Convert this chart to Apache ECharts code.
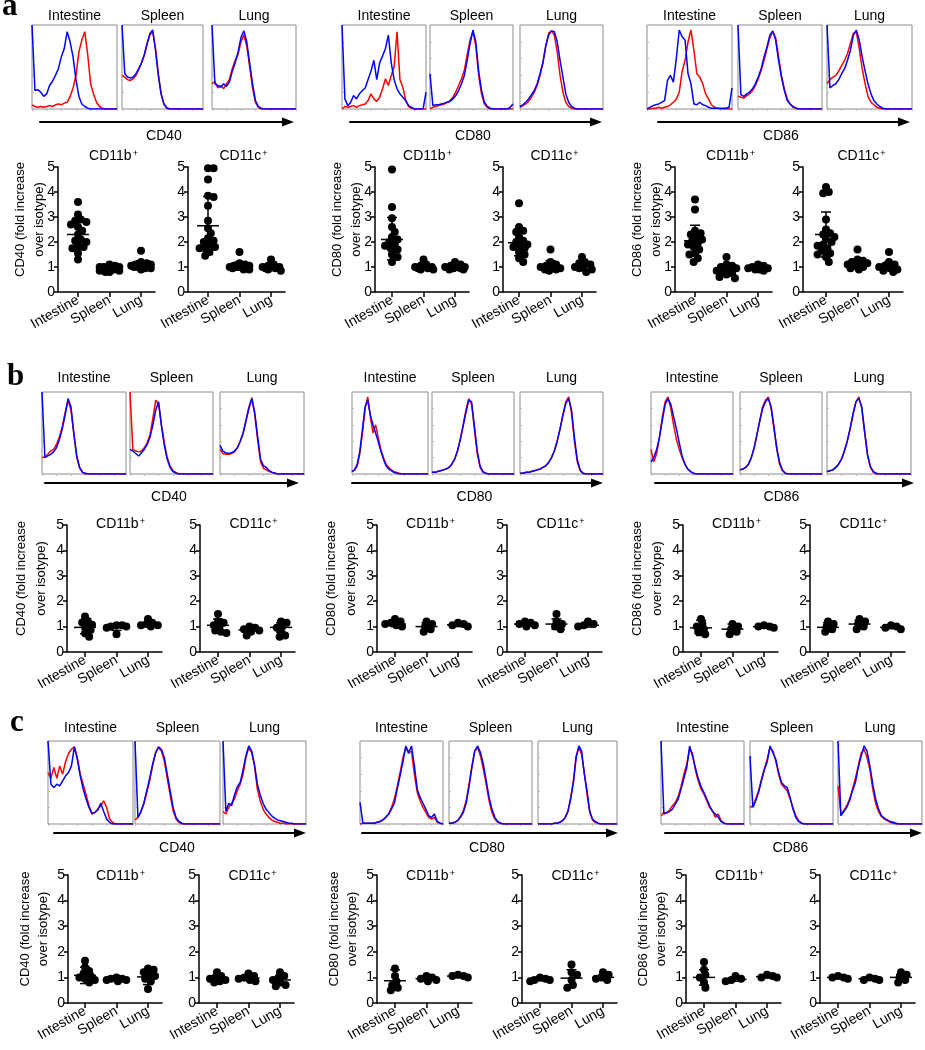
<!DOCTYPE html>
<html><head><meta charset="utf-8">
<script src="https://cdn.jsdelivr.net/npm/echarts@6/dist/echarts.min.js"></script>
<style>html,body{margin:0;padding:0;background:#fff}#c{width:925px;height:1050px}</style>
</head><body><div id="c"></div><script>
// ---------- labels ----------
const categories = ['Intestine', 'Spleen', 'Lung'];
const markers = ['CD40', 'CD80', 'CD86'];
const subsets = ['CD11b', 'CD11c'];
const rowLetters = ['a', 'b', 'c'];

// ---------- histogram curves (relative counts, 30 bins across the box) ----------
// row a
const hA_CD40_Int_R = [5,3,2,3,2,3,4,3,5,6,5,7,8,15,25,40,68,82,92,65,30,18,8,3,1,0,0,0,0,0];
const hA_CD40_Int_B = [100,22,23,20,15,18,28,33,40,48,62,72,92,80,62,35,15,6,3,1,0,0,0,0,0,0,0,0,0,0];
const hA_CD40_Spl_R = [40,38,35,34,36,40,47,55,64,78,88,92,72,42,18,6,2,0,0,0,0,0,0,0,0,0,0,0,0,0];
const hA_CD40_Spl_B = [100,42,38,37,38,42,48,55,65,78,90,94,70,40,18,6,1,0,0,0,0,0,0,0,0,0,0,0,0,0];
const hA_CD40_Lun_R = [30,33,25,28,24,30,35,48,58,65,80,88,75,50,25,8,2,0,0,0,0,0,0,0,0,0,0,0,0,0];
const hA_CD40_Lun_B = [100,30,28,26,30,27,32,45,55,68,85,93,80,55,30,10,3,1,0,0,0,0,0,0,0,0,0,0,0,0];
const hA_CD80_Int_R = [0,3,2,3,4,2,4,5,6,10,18,12,9,14,24,36,28,40,50,92,35,26,10,3,1,0,0,0,0,0];
const hA_CD80_Int_B = [100,12,4,8,16,12,18,22,25,35,45,58,35,55,63,72,88,55,35,24,18,14,10,4,2,0,0,0,0,20];
const hA_CD80_Spl_R = [0,2,3,4,5,6,8,10,14,20,28,36,46,65,82,92,75,40,18,6,2,0,0,0,0,0,0,0,0,0];
const hA_CD80_Spl_B = [42,4,5,5,6,7,8,9,12,16,22,30,40,58,78,94,80,45,22,8,3,1,0,0,0,0,0,0,2,6];
const hA_CD80_Lun_R = [2,4,6,9,14,20,28,40,55,75,90,93,88,68,40,20,8,3,1,0,0,0,0,0,0,0,0,0,0,0];
const hA_CD80_Lun_B = [3,5,8,12,17,22,30,42,55,75,88,93,92,80,58,38,18,8,3,1,0,0,0,0,0,0,0,0,0,0];
const hA_CD86_Int_R = [0,0,1,1,2,1,2,3,5,8,12,20,45,58,80,94,70,42,38,30,18,12,5,2,1,0,0,0,0,0];
const hA_CD86_Int_B = [0,2,4,5,6,8,10,34,40,32,60,94,86,82,42,30,6,5,8,5,4,2,1,1,1,1,1,1,2,25];
const hA_CD86_Spl_R = [15,14,13,16,18,22,28,36,46,58,72,85,92,85,62,40,24,12,6,2,1,0,0,0,0,0,0,0,0,0];
const hA_CD86_Spl_B = [100,17,15,18,20,24,30,38,48,62,74,88,93,82,58,38,22,10,6,3,1,0,0,0,0,0,0,0,0,0];
const hA_CD86_Lun_R = [30,35,38,40,45,52,58,66,78,90,92,72,48,30,15,8,5,2,1,0,0,0,0,0,0,0,0,0,0,0];
const hA_CD86_Lun_B = [100,25,28,30,35,42,48,58,70,88,94,82,62,45,30,18,10,6,3,1,0,0,0,0,0,0,0,0,0,0];
// row b
const hB_CD40_Int_R = [20,21,24,28,30,36,45,58,75,90,78,48,20,7,2,0,0,0,0,0,0,0,0,0,0,0,0,0,0,0];
const hB_CD40_Int_B = [100,20,22,24,27,32,42,55,72,92,82,50,22,8,2,1,0,0,0,0,0,0,0,0,0,0,0,0,0,0];
const hB_CD40_Spl_R = [100,30,28,27,28,32,38,48,68,90,85,60,38,20,10,4,2,0,0,0,0,0,0,0,0,0,0,0,0,0];
const hB_CD40_Spl_B = [30,28,25,22,26,30,36,45,60,78,88,58,35,18,8,3,1,0,0,0,0,0,0,0,0,0,0,0,0,0];
const hB_CD40_Lun_R = [30,25,24,24,25,27,32,40,50,66,82,93,72,42,15,7,5,3,2,1,0,0,0,0,0,0,0,0,0,0];
const hB_CD40_Lun_B = [35,28,26,25,26,28,32,40,50,65,80,92,75,45,18,10,8,4,2,1,0,0,0,0,0,0,0,0,0,0];
const hB_CD80_Int_R = [3,5,10,25,50,80,94,70,50,60,45,30,20,12,8,5,3,2,1,0,0,0,0,0,0,0,0,0,0,0];
const hB_CD80_Int_B = [3,5,12,28,55,82,90,72,60,50,40,28,18,10,6,4,2,1,0,0,0,0,0,0,0,0,0,0,0,0];
const hB_CD80_Spl_R = [2,2,3,4,5,6,8,12,18,28,42,60,78,92,85,55,25,8,2,1,0,0,0,0,0,0,0,0,0,0];
const hB_CD80_Spl_B = [2,2,3,4,5,6,8,12,18,28,42,58,75,90,88,58,28,10,3,1,0,0,0,0,0,0,0,0,0,0];
const hB_CD80_Lun_R = [1,1,2,2,3,4,5,6,8,10,14,20,28,40,55,72,88,94,75,40,15,4,1,0,0,0,0,0,0,0];
const hB_CD80_Lun_B = [1,1,2,2,3,4,5,6,8,10,14,20,28,40,55,72,86,92,78,45,18,5,1,0,0,0,0,0,0,0];
const hB_CD86_Int_R = [30,15,25,45,70,88,94,80,60,42,30,20,12,6,3,1,0,0,0,0,0,0,0,0,0,0,0,0,0,0];
const hB_CD86_Int_B = [15,20,30,45,65,85,92,85,70,55,38,22,12,6,3,1,0,0,0,0,0,0,0,0,0,0,0,0,0,0];
const hB_CD86_Spl_R = [5,6,8,12,20,32,48,65,82,90,94,80,55,30,12,4,1,0,0,0,0,0,0,0,0,0,0,0,0,0];
const hB_CD86_Spl_B = [5,6,8,12,20,32,48,65,80,88,92,82,58,32,14,5,1,0,0,0,0,0,0,0,0,0,0,0,0,0];
const hB_CD86_Lun_R = [3,4,5,8,12,18,28,40,55,72,88,94,80,50,22,8,2,0,0,0,0,0,0,0,0,0,0,0,0,0];
const hB_CD86_Lun_B = [3,4,5,8,12,18,28,40,56,74,88,92,82,52,24,9,3,1,0,0,0,0,0,0,0,0,0,0,0,0];
// row c
const hC_CD40_Int_R = [62,55,68,55,70,60,75,85,90,93,80,60,48,35,22,13,14,18,22,28,20,6,2,0,0,0,0,0,0,0];
const hC_CD40_Int_B = [100,48,44,48,46,52,58,62,70,93,78,58,42,30,20,12,14,17,25,15,6,2,0,0,0,0,0,0,0,0];
const hC_CD40_Spl_R = [5,8,14,24,38,52,70,86,92,88,76,55,35,16,6,2,0,0,0,0,0,0,0,0,0,0,0,0,0,0];
const hC_CD40_Spl_B = [100,8,15,25,40,55,72,85,93,90,80,60,40,20,8,3,1,0,0,0,0,0,0,0,0,0,0,0,0,0];
const hC_CD40_Lun_R = [15,12,20,25,30,40,48,60,80,92,86,70,42,28,18,12,8,5,3,2,1,1,0,0,0,0,0,0,0,0];
const hC_CD40_Lun_B = [100,15,25,22,35,45,50,65,82,94,88,72,48,35,25,18,14,10,7,5,4,3,2,1,1,0,0,0,0,0];
const hC_CD80_Int_R = [0,1,1,1,1,1,2,3,5,8,12,20,30,45,62,80,92,85,88,60,38,28,20,14,8,6,8,2,1,0];
const hC_CD80_Int_B = [26,1,1,1,1,1,2,3,5,8,12,18,25,42,58,75,94,86,94,70,42,32,25,18,10,8,12,3,1,0];
const hC_CD80_Spl_R = [1,1,2,4,9,16,28,48,70,88,92,82,66,48,28,14,6,2,1,0,0,0,0,0,0,0,0,0,0,0];
const hC_CD80_Spl_B = [1,1,2,4,8,14,25,45,68,88,94,86,72,52,32,18,8,3,1,0,0,0,0,0,0,0,0,0,0,0];
const hC_CD80_Lun_R = [0,0,0,0,0,0,1,1,2,4,8,16,32,52,82,92,84,62,36,14,5,2,1,0,0,0,0,0,0,0];
const hC_CD80_Lun_B = [0,0,0,0,0,0,1,1,2,4,8,15,30,50,80,94,88,60,40,15,6,3,1,0,0,0,0,0,0,0];
const hC_CD86_Int_R = [10,14,13,17,22,26,33,45,60,72,90,85,65,52,42,36,28,20,16,8,12,4,1,0,0,0,0,0,0,0];
const hC_CD86_Int_B = [100,12,14,15,18,24,30,42,55,68,94,82,68,55,45,38,30,22,15,12,8,3,1,0,0,0,0,0,0,0];
const hC_CD86_Spl_R = [20,22,30,40,54,66,78,92,88,76,60,48,44,40,30,20,10,4,1,0,0,0,0,0,0,0,0,0,0,0];
const hC_CD86_Spl_B = [82,20,28,38,52,65,75,94,86,78,62,50,46,44,32,18,8,3,1,0,0,0,0,0,0,0,0,0,0,0];
const hC_CD86_Lun_R = [46,12,16,22,30,42,55,70,85,90,80,66,42,25,15,9,6,4,2,1,0,0,0,0,0,0,0,0,0,0];
const hC_CD86_Lun_B = [100,10,15,20,28,40,50,68,82,94,88,70,48,30,18,10,7,5,3,2,1,0,0,0,0,0,0,0,0,0];

// ---------- dot plots: fold increase over isotype (Intestine, Spleen, Lung) ----------
const dA_CD40_b = [[3.6,3.1,2.9,2.85,2.8,2.7,2.6,2.45,2.3,2.1,2.05,2.0,1.85,1.8,1.75,1.55,1.3],[1.1,1.05,1.0,1.0,0.95,0.95,0.9,0.9,0.85,0.85,0.8,0.8,0.95,1.0],[1.65,1.2,1.15,1.1,1.1,1.05,1.0,1.0,0.95,0.95,0.9,1.0,1.05]];
const eA_CD40_b = [[2.3,1.7,2.95],[0.95,0.85,1.05],[1.05,0.9,1.25]];
const dA_CD40_c = [[4.95,4.95,4.5,3.85,3.8,3.45,2.85,2.55,2.35,2.15,2.05,2.0,1.9,1.8,1.75,1.6,1.45,1.75],[1.6,1.15,1.1,1.05,1.0,1.0,0.95,0.95,0.9,1.0,1.05,0.9],[1.3,1.1,1.05,1.0,1.0,0.95,0.95,0.9,0.85,1.0]];
const eA_CD40_c = [[2.65,1.5,3.82],[1.05,0.9,1.2],[1.0,0.9,1.12]];
const dA_CD80_b = [[4.9,3.4,2.95,2.6,2.4,2.2,2.1,2.0,1.9,1.85,1.75,1.7,1.5,1.4,1.2],[1.3,1.1,1.05,1.0,1.0,0.95,0.95,0.9,0.9,1.0],[1.2,1.1,1.05,1.0,1.0,0.95,0.95,0.9,0.9,1.0]];
const eA_CD80_b = [[2.1,1.28,2.98],[1.02,0.9,1.12],[1.0,0.9,1.1]];
const dA_CD80_c = [[3.55,2.6,2.45,2.4,2.2,2.05,1.9,1.8,1.75,1.6,1.5,1.35,1.2,1.85,2.0],[1.7,1.2,1.1,1.05,1.0,1.0,0.95,0.9,0.9,0.85],[1.4,1.2,1.15,1.1,1.0,1.0,0.95,0.9,0.8]];
const eA_CD80_c = [[1.97,1.45,2.52],[1.05,0.88,1.25],[1.02,0.85,1.2]];
const dA_CD86_b = [[3.7,3.3,2.45,2.35,2.3,2.2,2.1,2.05,1.95,1.9,1.8,1.7,1.55,1.5,1.35,1.2],[1.4,1.1,1.05,1.0,0.95,0.9,0.85,0.8,0.75,0.7,0.6,0.55],[1.1,1.05,1.0,0.95,0.95,0.9,0.9,0.85]];
const eA_CD86_b = [[2.05,1.45,2.67],[0.9,0.7,1.1],[0.95,0.87,1.03]];
const dA_CD86_c = [[4.2,4.0,3.95,2.9,2.5,2.35,2.3,2.2,2.1,2.0,1.9,1.85,1.75,1.65,1.55,1.5,1.4,1.2],[1.7,1.3,1.25,1.2,1.15,1.1,1.1,1.05,1.0,0.95,0.9],[1.6,1.2,1.1,1.05,1.0,0.95,0.9,0.85,0.8]];
const eA_CD86_c = [[2.3,1.4,3.2],[1.15,1.0,1.3],[1.0,0.85,1.2]];

const dB_CD40_b = [[1.4,1.22,1.16,1.07,0.97,0.87,0.74,0.6],[1.05,1.0,1.0,0.95,0.7,1.05],[1.3,1.15,1.1,1.05,1.05,1.0]];
const eB_CD40_b = [[0.97,0.72,1.22],[0.97,0.85,1.08],[1.07,1.0,1.15]];
const dB_CD40_c = [[1.5,1.2,1.15,1.05,1.0,0.85,0.8,0.75],[1.0,0.95,0.9,0.85,0.65,0.8],[1.2,1.15,1.0,0.95,0.8,0.65,0.6]];
const eB_CD40_c = [[1.05,0.8,1.3],[0.87,0.72,1.0],[0.97,0.78,1.15]];
const dB_CD80_b = [[1.3,1.2,1.15,1.1,1.05,1.0],[1.2,1.1,1.0,0.9,0.8],[1.15,1.1,1.05,1.0]];
const eB_CD80_b = [[1.1,1.0,1.2],[1.0,0.85,1.15],[1.07,1.0,1.13]];
const dB_CD80_c = [[1.2,1.15,1.1,1.05,1.0],[1.5,1.2,1.1,1.0,0.9],[1.2,1.1,1.05,1.0]];
const eB_CD80_c = [[1.1,1.02,1.18],[1.1,0.9,1.3],[1.05,0.98,1.15]];
const dB_CD86_b = [[1.3,1.1,1.0,0.9,0.8,0.7],[1.1,1.0,0.9,0.8,0.7],[1.05,1.0,1.0,0.95]];
const eB_CD86_b = [[0.95,0.65,1.25],[0.9,0.72,1.1],[1.0,0.96,1.04]];
const dB_CD86_c = [[1.2,1.1,1.0,0.9,0.8],[1.3,1.2,1.1,1.0,0.9],[1.05,1.0,0.95,0.9]];
const eB_CD86_c = [[0.97,0.8,1.15],[1.1,0.95,1.25],[0.97,0.92,1.03]];

const dC_CD40_b = [[1.65,1.4,1.25,1.15,1.05,0.95,0.9,0.8,1.0],[1.0,0.95,0.95,0.9,0.9,0.85],[1.35,1.3,1.2,1.1,1.05,0.95,0.85,0.55]];
const eC_CD40_b = [[1.08,0.76,1.4],[0.93,0.88,0.98],[1.02,0.72,1.3]];
const dC_CD40_c = [[1.2,1.05,1.0,0.95,0.9,0.85,0.8],[1.15,1.05,1.0,0.95,0.9,0.85],[1.2,1.05,1.0,0.9,0.8,0.7,0.65]];
const eC_CD40_c = [[0.95,0.82,1.08],[0.98,0.88,1.08],[0.9,0.72,1.05]];
const dC_CD80_b = [[1.35,1.05,0.85,0.7,0.6,0.5],[1.05,1.0,0.95,0.9,0.85],[1.1,1.05,1.05,1.0]];
const eC_CD80_b = [[0.87,0.5,1.3],[0.95,0.88,1.02],[1.05,1.0,1.1]];
const dC_CD80_c = [[1.0,0.95,0.9,0.9,0.85],[1.5,1.2,1.1,0.9,0.7,0.6],[1.2,1.1,1.0,0.95,0.9]];
const eC_CD80_c = [[0.93,0.87,0.98],[0.97,0.7,1.3],[1.0,0.92,1.1]];
const dC_CD86_b = [[1.6,1.3,1.1,1.0,0.8,0.6],[1.05,0.95,0.9,0.85],[1.1,1.05,1.0,1.0]];
const eC_CD86_b = [[1.0,0.7,1.3],[0.92,0.85,1.0],[1.03,0.98,1.08]];
const dC_CD86_c = [[1.05,1.0,1.0,0.95],[1.0,0.95,0.9,0.9],[1.2,1.1,1.0,0.9,0.8]];
const eC_CD86_c = [[1.0,0.96,1.04],[0.95,0.9,1.0],[1.0,0.88,1.12]];

// ---------- lookup tables built from the arrays ----------
const HIST = {
  a: { CD40: [[hA_CD40_Int_R,hA_CD40_Int_B],[hA_CD40_Spl_R,hA_CD40_Spl_B],[hA_CD40_Lun_R,hA_CD40_Lun_B]],
       CD80: [[hA_CD80_Int_R,hA_CD80_Int_B],[hA_CD80_Spl_R,hA_CD80_Spl_B],[hA_CD80_Lun_R,hA_CD80_Lun_B]],
       CD86: [[hA_CD86_Int_R,hA_CD86_Int_B],[hA_CD86_Spl_R,hA_CD86_Spl_B],[hA_CD86_Lun_R,hA_CD86_Lun_B]] },
  b: { CD40: [[hB_CD40_Int_R,hB_CD40_Int_B],[hB_CD40_Spl_R,hB_CD40_Spl_B],[hB_CD40_Lun_R,hB_CD40_Lun_B]],
       CD80: [[hB_CD80_Int_R,hB_CD80_Int_B],[hB_CD80_Spl_R,hB_CD80_Spl_B],[hB_CD80_Lun_R,hB_CD80_Lun_B]],
       CD86: [[hB_CD86_Int_R,hB_CD86_Int_B],[hB_CD86_Spl_R,hB_CD86_Spl_B],[hB_CD86_Lun_R,hB_CD86_Lun_B]] },
  c: { CD40: [[hC_CD40_Int_R,hC_CD40_Int_B],[hC_CD40_Spl_R,hC_CD40_Spl_B],[hC_CD40_Lun_R,hC_CD40_Lun_B]],
       CD80: [[hC_CD80_Int_R,hC_CD80_Int_B],[hC_CD80_Spl_R,hC_CD80_Spl_B],[hC_CD80_Lun_R,hC_CD80_Lun_B]],
       CD86: [[hC_CD86_Int_R,hC_CD86_Int_B],[hC_CD86_Spl_R,hC_CD86_Spl_B],[hC_CD86_Lun_R,hC_CD86_Lun_B]] }
};
const DOTS = {
  a: { CD40: [[dA_CD40_b,eA_CD40_b],[dA_CD40_c,eA_CD40_c]], CD80: [[dA_CD80_b,eA_CD80_b],[dA_CD80_c,eA_CD80_c]], CD86: [[dA_CD86_b,eA_CD86_b],[dA_CD86_c,eA_CD86_c]] },
  b: { CD40: [[dB_CD40_b,eB_CD40_b],[dB_CD40_c,eB_CD40_c]], CD80: [[dB_CD80_b,eB_CD80_b],[dB_CD80_c,eB_CD80_c]], CD86: [[dB_CD86_b,eB_CD86_b],[dB_CD86_c,eB_CD86_c]] },
  c: { CD40: [[dC_CD40_b,eC_CD40_b],[dC_CD40_c,eC_CD40_c]], CD80: [[dC_CD80_b,eC_CD80_b],[dC_CD80_c,eC_CD80_c]], CD86: [[dC_CD86_b,eC_CD86_b],[dC_CD86_c,eC_CD86_c]] }
};

// ---------- layout (pixels) ----------
const LAYOUT = [
  { letter:[2,6.5], titleY:15.7, boxTop:25, boxH:84, arrowY:122, labelY:136.5, scatTop:167, scatH:125, subY:155.7, yt:[-38,-19],
    groups:[
      { boxes:[[32,85],[122,81],[212,84]], arrow:[40,288], plots:[[58,78],[188,208]] },
      { boxes:[[342,84],[430,83],[520,83]], arrow:[350,596], plots:[[375,392],[503,519]] },
      { boxes:[[647,85],[738,84],[827,85]], arrow:[658,904], plots:[[675,695],[803,826]] } ] },
  { letter:[7,377], titleY:378, boxTop:392, boxH:82, arrowY:483, labelY:497.5, scatTop:525, scatH:127, subY:524, yt:[-46,-26],
    groups:[
      { boxes:[[42,84],[130,83],[220,84]], arrow:[45,293], plots:[[67,85],[200,218]] },
      { boxes:[[352,76],[432,82],[520,83]], arrow:[352,597], plots:[[377,395],[507,525]] },
      { boxes:[[651,82],[740,82],[827,84]], arrow:[655,908], plots:[[683,701],[810,828]] } ] },
  { letter:[10,723], titleY:728, boxTop:741, boxH:83, arrowY:833, labelY:848.5, scatTop:875, scatH:128, subY:876, yt:[-43,-25],
    groups:[
      { boxes:[[48,85],[135,85],[223,83]], arrow:[54,300], plots:[[68,85],[199,217]] },
      { boxes:[[360,83],[449,83],[538,79]], arrow:[362,612], plots:[[377,395],[522,540]] },
      { boxes:[[661,83],[750,83],[838,84]], arrow:[665,916], plots:[[686,704],[820,838]] } ] }
];

const FONT = '"Liberation Sans", Arial, sans-serif';
const CAT_PX = 31.5, TAIL_PX = 14, DOT = 8;

// beeswarm-style horizontal spreading of dots (pixel offsets)
function swarm(vals, pxPerY) {
  const order = vals.map((v, i) => i).sort((a, b) => vals[b] - vals[a]);
  const placed = [], offs = new Array(vals.length).fill(0);
  const minD = 5.2;
  for (const i of order) {
    const y = vals[i] * pxPerY;
    let best = 0, bestScore = -1;
    for (let k = 0; k < 15; k++) {
      const dx = k === 0 ? 0 : (k % 2 ? 1 : -1) * Math.ceil(k / 2) * 1.4;
      let md = Infinity;
      for (const p of placed) md = Math.min(md, Math.hypot(p.x - dx, p.y - y));
      if (md >= minD) { best = dx; bestScore = md; break; }
      if (md > bestScore) { bestScore = md; best = dx; }
    }
    offs[i] = best; placed.push({ x: best, y });
  }
  return offs;
}

const grid = [], xAxis = [], yAxis = [], series = [], graphic = [];
function txt(x, y, text, size) {
  graphic.push({ type: 'text', x, y, silent: true,
    style: { text, fill: '#000', font: size + 'px ' + FONT, textAlign: 'center', textVerticalAlign: 'middle' } });
}

LAYOUT.forEach((row, ri) => {
  const L = rowLetters[ri];
  graphic.push({ type: 'text', x: row.letter[0], y: row.letter[1], silent: true,
    style: { text: L, fill: '#000', font: 'bold 31px "Liberation Serif", "DejaVu Serif", serif', textAlign: 'left', textVerticalAlign: 'middle' } });
  row.groups.forEach((g, gi) => {
    const mk = markers[gi];
    // histograms
    g.boxes.forEach((b, ci) => {
      const gidx = grid.length;
      grid.push({ left: b[0], top: row.boxTop, width: b[1], height: row.boxH, show: true, borderColor: '#8c8c8c', borderWidth: 1 });
      xAxis.push({ gridIndex: gidx, type: 'value', min: 0, max: 29, axisLine: { show: false }, axisLabel: { show: false },
        splitLine: { show: false }, axisTick: { show: true, length: 2, lineStyle: { color: '#bbb' } }, splitNumber: 6 });
      yAxis.push({ gridIndex: gidx, type: 'value', min: 0, max: 100, axisLine: { show: false }, axisLabel: { show: false },
        splitLine: { show: false }, axisTick: { show: true, length: 2, inside: true, lineStyle: { color: '#bbb' } }, interval: 20 });
      const curves = HIST[L][mk][ci];
      ['#ff0000', '#0000ff'].forEach((col, k) => {
        series.push({ type: 'line', xAxisIndex: gidx, yAxisIndex: gidx, showSymbol: false, silent: true, animation: false,
          lineStyle: { color: col, width: 1.5 }, data: curves[k].map((v, i) => [i, v]) });
      });
      txt(b[0] + b[1] / 2, row.titleY, categories[ci], 14);
    });
    // arrow axis
    const ai = grid.length;
    grid.push({ left: g.arrow[0], top: row.arrowY - 1, width: g.arrow[1] - g.arrow[0], height: 1 });
    xAxis.push({ gridIndex: ai, type: 'value', min: 0, max: 1, axisLine: { show: true, symbol: ['none', 'triangle'], symbolSize: [9, 12],
      lineStyle: { color: '#000', width: 2 } }, axisTick: { show: false }, axisLabel: { show: false }, splitLine: { show: false } });
    yAxis.push({ gridIndex: ai, type: 'value', show: false });
    txt((g.arrow[0] + g.arrow[1]) / 2, row.labelY, mk, 14);
    // dot plots
    g.plots.forEach((p, si) => {
      const gidx = grid.length;
      const lead = p[1] - p[0];
      const width = lead + 2 * CAT_PX + TAIL_PX;
      grid.push({ left: p[0], top: row.scatTop, width, height: row.scatH });
      xAxis.push({ gridIndex: gidx, type: 'value', min: -lead / CAT_PX, max: 2 + TAIL_PX / CAT_PX,
        axisLine: { show: true, onZero: false, lineStyle: { color: '#000', width: 1.5 } },
        axisTick: { show: true, length: 5, lineStyle: { color: '#000', width: 1.5 }, customValues: [0, 1, 2] },
        axisLabel: { show: true, customValues: [0, 1, 2], formatter: v => categories[Math.round(v)], rotate: 30, margin: 7,
          color: '#000', fontSize: 14, fontFamily: FONT },
        splitLine: { show: false } });
      yAxis.push({ gridIndex: gidx, type: 'value', min: 0, max: 5, interval: 1,
        axisLine: { show: true, onZero: false, lineStyle: { color: '#000', width: 1.5 } },
        axisTick: { show: true, length: 4, lineStyle: { color: '#000', width: 1.5 } },
        axisLabel: { color: '#000', fontSize: 14, fontFamily: FONT, margin: 3 }, splitLine: { show: false } });
      const [dots, bars] = DOTS[L][mk][si];
      const pxPerY = row.scatH / 5;
      const pts = [];
      dots.forEach((vals, ci) => {
        const offs = swarm(vals, pxPerY);
        vals.forEach((v, i) => pts.push([ci + offs[i] / CAT_PX, v]));
      });
      series.push({ type: 'scatter', xAxisIndex: gidx, yAxisIndex: gidx, symbolSize: DOT, silent: true, animation: false,
        itemStyle: { color: '#000', opacity: 1 }, data: pts });
      series.push({ type: 'custom', xAxisIndex: gidx, yAxisIndex: gidx, silent: true, animation: false,
        data: bars.map((b, ci) => [ci, b[0], b[1], b[2]]),
        renderItem: (params, api) => {
          const c = api.value(0);
          const pm = api.coord([c, api.value(1)]), pl = api.coord([c, api.value(2)]), ph = api.coord([c, api.value(3)]);
          const st = { stroke: '#000', lineWidth: 1.5 };
          return { type: 'group', children: [
            { type: 'line', shape: { x1: pm[0] - 11, y1: pm[1], x2: pm[0] + 11, y2: pm[1] }, style: st },
            { type: 'line', shape: { x1: ph[0], y1: ph[1], x2: pl[0], y2: pl[1] }, style: st },
            { type: 'line', shape: { x1: ph[0] - 5, y1: ph[1], x2: ph[0] + 5, y2: ph[1] }, style: st },
            { type: 'line', shape: { x1: pl[0] - 5, y1: pl[1], x2: pl[0] + 5, y2: pl[1] }, style: st } ] };
        } });
      // subtitle with superscript +
      graphic.push({ type: 'text', x: p[1] + CAT_PX + 4, y: row.subY, silent: true,
        style: { text: '{a|' + subsets[si] + '}{s|+}', textAlign: 'center', textVerticalAlign: 'middle', fill: '#000',
          rich: { a: { fontSize: 14, fontFamily: FONT, fill: '#000' }, s: { fontSize: 9, fontFamily: FONT, fill: '#000', verticalAlign: 'top', padding: [0, 0, 0, 1] } } } });
      if (si === 0) {
        graphic.push({ type: 'text', x: p[0] + (row.yt[0] + row.yt[1]) / 2, y: row.scatTop + row.scatH / 2 - 10, rotation: Math.PI / 2, silent: true,
          style: { text: mk + ' (fold increase\nover isotype)', fill: '#000', font: '13px ' + FONT, lineHeight: row.yt[1] - row.yt[0],
            textAlign: 'center', textVerticalAlign: 'middle' } });
      }
    });
  });
});

const chart = echarts.init(document.getElementById('c'), null, { renderer: 'canvas' });
chart.setOption({ animation: false, backgroundColor: '#fff', grid, xAxis, yAxis, series, graphic });
</script></body></html>
